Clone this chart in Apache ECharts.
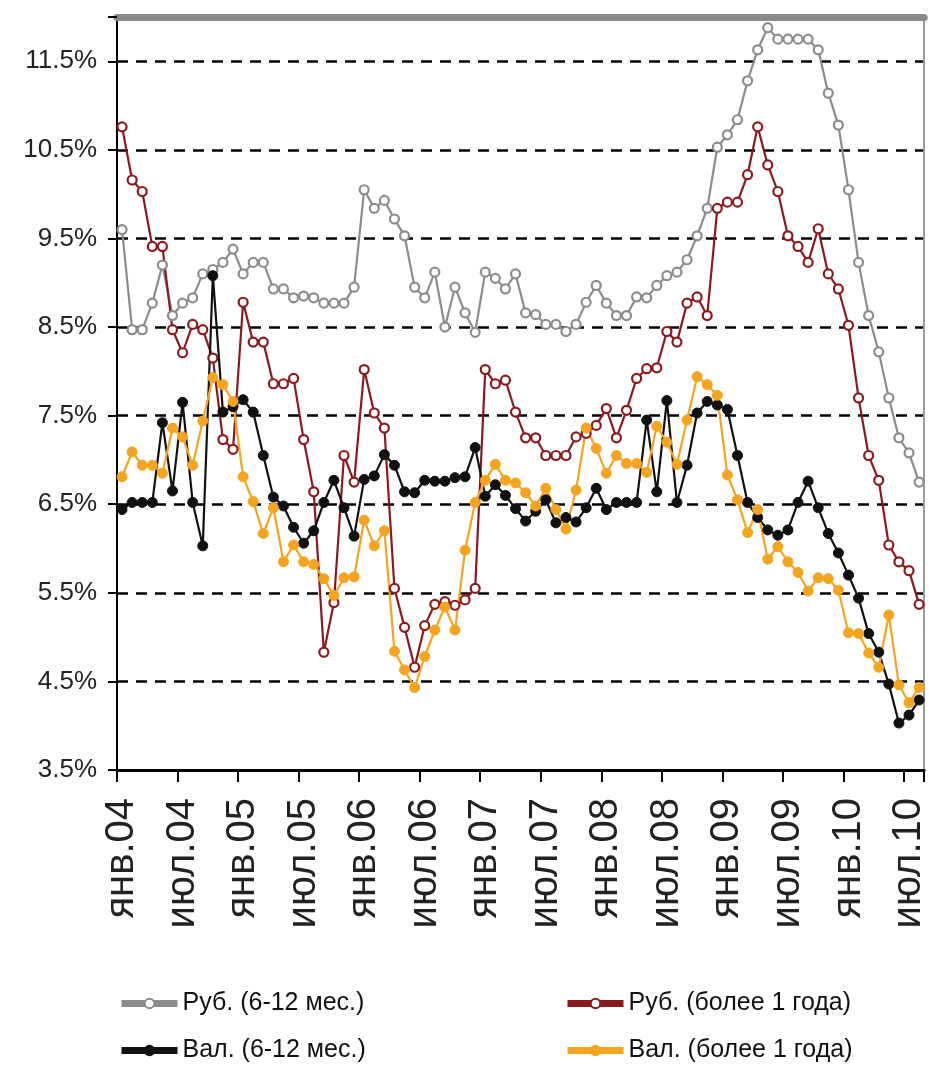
<!DOCTYPE html>
<html>
<head>
<meta charset="utf-8">
<title>Ставки по депозитам</title>
<script src="https://cdn.jsdelivr.net/npm/echarts@6/dist/echarts.min.js"></script>
<style>
html, body { margin: 0; padding: 0; background: #fff; }
#chart { width: 929px; height: 1073px; }
</style>
</head>
<body>
<div id="chart"></div>
<script>
// месяцы: янв.04 - авг.10
var monthNames = ['янв', 'фев', 'мар', 'апр', 'май', 'июн', 'июл', 'авг', 'сен', 'окт', 'ноя', 'дек'];
var years = ['04', '05', '06', '07', '08', '09', '10'];
var lastMonth = 8; // август 2010

var categories = [];
for (var y = 0; y < years.length; y++) {
  for (var m = 0; m < 12; m++) {
    if (y == years.length - 1 && m >= lastMonth) break;
    categories.push(monthNames[m] + '.' + years[y]);
  }
}

var seriesNames = ['Руб. (6-12 мес.)', 'Руб. (более 1 года)', 'Вал. (6-12 мес.)', 'Вал. (более 1 года)'];

// Руб. (6-12 мес.)
var rub612 = [9.6, 8.47, 8.47, 8.77, 9.2, 8.63, 8.77, 8.83, 9.1, 9.15,
  9.23, 9.38, 9.1, 9.23, 9.23, 8.93, 8.93, 8.83, 8.85, 8.83,
  8.77, 8.77, 8.77, 8.95, 10.05, 9.84, 9.93, 9.72, 9.53, 8.95,
  8.83, 9.12, 8.5, 8.95, 8.66, 8.44, 9.12, 9.05, 8.93, 9.1,
  8.66, 8.64, 8.53, 8.53, 8.45, 8.53, 8.78, 8.97, 8.77, 8.63,
  8.63, 8.84, 8.83, 8.97, 9.08, 9.12, 9.26, 9.53, 9.84, 10.53,
  10.67, 10.84, 11.28, 11.63, 11.88, 11.75, 11.75, 11.75, 11.75, 11.63,
  11.14, 10.78, 10.05, 9.23, 8.63, 8.22, 7.7, 7.25, 7.08, 6.75];

// Руб. (более 1 года)
var rub1y = [10.76, 10.16, 10.03, 9.41, 9.41, 8.47, 8.21, 8.53, 8.47, 8.15,
  7.23, 7.12, 8.78, 8.33, 8.33, 7.86, 7.86, 7.92, 7.23, 6.64,
  4.83, 5.39, 7.05, 6.75, 8.02, 7.53, 7.36, 5.55, 5.11, 4.66,
  5.13, 5.37, 5.4, 5.36, 5.42, 5.55, 8.02, 7.86, 7.9, 7.54,
  7.25, 7.25, 7.05, 7.05, 7.05, 7.26, 7.3, 7.39, 7.58, 7.25,
  7.56, 7.92, 8.03, 8.04, 8.45, 8.33, 8.77, 8.84, 8.63, 9.84,
  9.91, 9.91, 10.22, 10.76, 10.33, 10.03, 9.53, 9.41, 9.23, 9.61,
  9.1, 8.93, 8.52, 7.7, 7.05, 6.77, 6.04, 5.85, 5.75, 5.37];

// Вал. (6-12 мес.)
var val612 = [6.44, 6.52, 6.52, 6.52, 7.42, 6.65, 7.65, 6.52, 6.03, 9.08,
  7.54, 7.6, 7.68, 7.54, 7.05, 6.58, 6.48, 6.24, 6.06, 6.2,
  6.52, 6.77, 6.46, 6.14, 6.78, 6.82, 7.06, 6.94, 6.64, 6.63,
  6.77, 6.76, 6.76, 6.8, 6.81, 7.14, 6.59, 6.72, 6.6, 6.45,
  6.31, 6.42, 6.55, 6.29, 6.35, 6.3, 6.46, 6.68, 6.44, 6.52,
  6.52, 6.52, 7.45, 6.64, 7.67, 6.52, 6.94, 7.53, 7.66, 7.62,
  7.57, 7.05, 6.52, 6.35, 6.21, 6.15, 6.21, 6.52, 6.76, 6.46,
  6.17, 5.95, 5.7, 5.44, 5.04, 4.83, 4.47, 4.03, 4.12, 4.29];

// Вал. (более 1 года)
var val1y = [6.81, 7.09, 6.94, 6.94, 6.85, 7.36, 7.26, 6.94, 7.44, 7.93,
  7.85, 7.66, 6.81, 6.53, 6.17, 6.46, 5.85, 6.04, 5.85, 5.82,
  5.66, 5.47, 5.67, 5.68, 6.32, 6.03, 6.2, 4.84, 4.63, 4.43,
  4.78, 5.08, 5.34, 5.08, 5.98, 6.52, 6.77, 6.95, 6.77, 6.74,
  6.63, 6.48, 6.68, 6.44, 6.22, 6.66, 7.36, 7.13, 6.85, 7.05,
  6.96, 6.96, 6.86, 7.38, 7.2, 6.95, 7.45, 7.94, 7.85, 7.73,
  6.83, 6.55, 6.18, 6.44, 5.88, 6.02, 5.85, 5.73, 5.52, 5.67,
  5.66, 5.53, 5.05, 5.04, 4.82, 4.66, 5.25, 4.46, 4.26, 4.43];

var yMin = 3.5;
var yMax = 12;
var yStep = 1;

var font = "'Liberation Sans', Arial, sans-serif";

function lineSeries(name, data, color, hollow) {
  return {
    name: name,
    type: 'line',
    data: data,
    symbol: 'circle',
    symbolSize: hollow ? 9 : 10,
    showAllSymbol: true,
    animation: false,
    lineStyle: { color: color, width: 2.2 },
    itemStyle: hollow
      ? { color: '#fff', borderColor: color, borderWidth: 2.2 }
      : { color: color, borderColor: color, borderWidth: 1 }
  };
}

var myChart = echarts.init(document.getElementById('chart'));

myChart.setOption({
  backgroundColor: '#fff',
  animation: false,
  grid: { left: 117, right: 4, top: 17, bottom: 303, containLabel: false },
  legend: [
    {
      data: [seriesNames[0], seriesNames[2]],
      orient: 'vertical',
      left: 118,
      top: 991,
      padding: 0,
      itemWidth: 56,
      itemHeight: 12,
      itemGap: 22,
      lineStyle: { width: 7 },
      textStyle: { fontFamily: font, fontSize: 25, color: '#111' }
    },
    {
      data: [seriesNames[1], seriesNames[3]],
      orient: 'vertical',
      left: 564,
      top: 991,
      padding: 0,
      itemWidth: 56,
      itemHeight: 12,
      itemGap: 22,
      lineStyle: { width: 7 },
      textStyle: { fontFamily: font, fontSize: 25, color: '#111' }
    }
  ],
  xAxis: [
    {
      type: 'category',
      data: categories,
      boundaryGap: true,
      axisLine: { lineStyle: { color: '#000', width: 3 } },
      axisTick: { show: true, interval: 5, length: 12, lineStyle: { color: '#000', width: 2 } },
      axisLabel: {
        interval: 5,
        rotate: 90,
        margin: 28,
        fontFamily: font,
        fontSize: 40,
        color: '#222'
      },
      splitLine: { show: false }
    },
    {
      type: 'category',
      data: categories,
      position: 'top',
      boundaryGap: true,
      axisLine: { lineStyle: { color: '#8a8a8a', width: 7 } },
      axisTick: { show: false },
      axisLabel: { show: false }
    }
  ],
  yAxis: [
    {
      type: 'value',
      min: yMin,
      max: yMax,
      interval: yStep,
      axisLine: { show: true, lineStyle: { color: '#000', width: 2 } },
      axisTick: { show: true, length: 9, lineStyle: { color: '#000', width: 2 } },
      axisLabel: {
        margin: 20,
        fontFamily: font,
        fontSize: 26,
        color: '#222',
        formatter: function (v) {
          if (v > 11.6) return '';
          return v.toFixed(1) + '%';
        }
      },
      splitLine: { show: true, lineStyle: { color: '#000', width: 2.5, type: [11, 8] } }
    },
    {
      type: 'value',
      min: yMin,
      max: yMax,
      position: 'right',
      axisLine: { show: true, lineStyle: { color: '#9a9a9a', width: 2 } },
      axisTick: { show: false },
      axisLabel: { show: false },
      splitLine: { show: false }
    }
  ],
  series: [
    lineSeries(seriesNames[0], rub612, '#8c8c8c', true),
    lineSeries(seriesNames[1], rub1y, '#8b1a1f', true),
    lineSeries(seriesNames[2], val612, '#111111', false),
    lineSeries(seriesNames[3], val1y, '#f4a41f', false)
  ]
});
</script>
</body>
</html>
